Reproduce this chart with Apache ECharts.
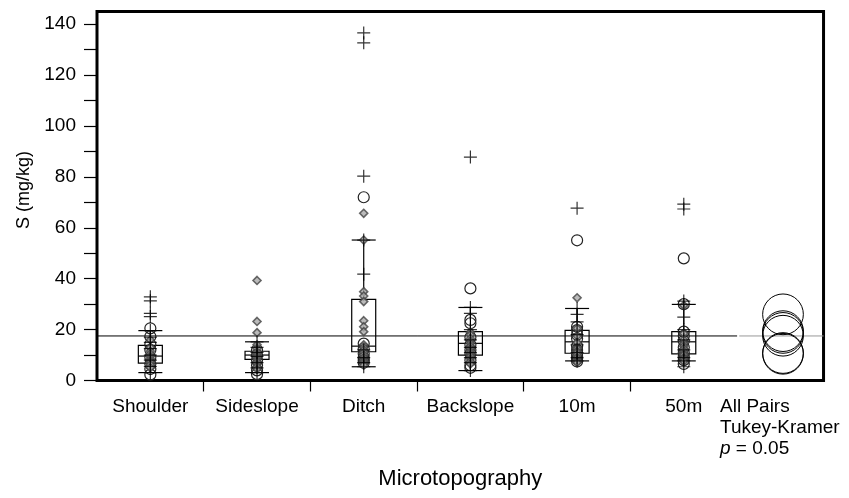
<!DOCTYPE html>
<html><head><meta charset="utf-8">
<script src="https://cdn.jsdelivr.net/npm/echarts@6/dist/echarts.min.js"></script>
<style>html,body{margin:0;padding:0;background:#fff}#c{width:849px;height:498px}</style>
</head><body><div id="c"></div>
<script>
// ---- data ----
const categories = ['Shoulder', 'Sideslope', 'Ditch', 'Backslope', '10m', '50m'];
const yTickValues = [0, 10, 20, 30, 40, 50, 60, 70, 80, 90, 100, 110, 120, 130, 140];
const yLabelValues = [0, 20, 40, 60, 80, 100, 120, 140];
const boxLow  = [3.1, 3.1, 5.4, 3.9, 7.7, 7.7];
const boxQ1   = [6.8, 8.3, 11.3, 10.0, 10.7, 10.5];
const boxMed  = [9.6, 10.0, 13.5, 14.6, 15.2, 15.2];
const boxQ3   = [13.8, 11.5, 31.9, 19.2, 19.7, 19.2];
const boxHigh = [19.6, 15.2, 55.2, 28.7, 28.3, 29.9];
const plusPts = [
  [32.9, 31.3, 26.4, 25.1, 19.6, 17.0, 15.0, 12.5, 10.0, 8.0, 5.5, 3.1],
  [15.2, 13.0, 11.0, 9.5, 7.0, 5.0, 3.1],
  [136.6, 132.7, 80.3, 55.2, 41.8, 12.0, 9.0, 7.0, 5.4],
  [87.8, 28.7, 26.4, 20.0, 16.0, 13.0, 11.0, 9.0, 7.0, 3.9],
  [67.7, 28.3, 26.0, 23.0, 18.0, 14.0, 11.0, 9.0, 7.7],
  [69.3, 67.4, 31.2, 29.9, 24.9, 20.0, 16.0, 12.0, 9.0, 7.7, 5.4]
];
const circlePts = [
  [20.5, 17.3, 14.2, 12.0, 9.0, 6.5, 4.5, 2.3],
  [12.0, 10.0, 8.0, 6.0, 4.0, 2.5],
  [72.0, 14.5, 12.5, 10.5, 9.0, 8.0, 7.0],
  [36.2, 23.8, 22.5, 17.0, 14.0, 12.0, 10.5, 8.0, 6.0, 5.0],
  [55.1, 21.1, 19.8, 18.0, 16.5, 13.5, 12.0, 10.5, 9.5, 8.5, 7.5],
  [48.0, 30.0, 19.2, 17.5, 15.5, 13.0, 11.0, 9.5, 8.0, 6.5]
];
const diamondPts = [
  [16.0, 13.0, 11.5, 10.5, 9.5, 8.6, 7.8, 7.2, 6.2, 5.0],
  [39.3, 23.2, 18.8, 14.0, 12.5, 11.2, 10.4, 9.8, 9.0, 8.2, 7.4, 6.5, 5.5, 4.5],
  [65.7, 55.2, 34.9, 33.2, 31.0, 23.5, 21.1, 19.2, 14.0, 13.0, 12.0, 11.0, 10.0, 9.0, 8.0, 7.5, 6.8, 6.0],
  [19.0, 18.0, 16.5, 15.5, 14.5, 13.5, 12.5, 11.5, 10.8, 10.0, 9.5, 8.5, 7.5, 6.5],
  [32.5, 20.5, 17.5, 15.0, 13.0, 12.5, 11.5, 11.0, 10.0, 9.0, 8.0, 7.5, 7.0],
  [29.5, 18.5, 16.0, 14.5, 13.5, 12.5, 11.5, 10.5, 10.0, 9.0, 8.5, 7.5]
];
const groupMeans = [10.8, 10.5, 26.0, 17.6, 18.7, 19.4];
const circleRadii = [8.0, 8.0, 8.0, 8.0, 8.0, 8.0];
const grandMean = 17.5;

// ---- layout helpers ----
const nG = categories.length;
const xMax = 6.81;
const circleX = nG + 0.43;
const gx = i => i + 0.5;

const boxData = categories.map((c, i) => [gx(i), boxLow[i], boxQ1[i], boxMed[i], boxQ3[i], boxHigh[i]]);
const toPts = arr => arr.flatMap((vals, i) => vals.map(v => [gx(i), v]));
const circData = groupMeans.map((m, i) => [circleX, m, circleRadii[i]]);

const font = "'Liberation Sans', Arial, sans-serif";

function renderBox(params, api) {
  const x = api.value(0);
  const lo = api.coord([x, api.value(1)]);
  const q1 = api.coord([x, api.value(2)]);
  const md = api.coord([x, api.value(3)]);
  const q3 = api.coord([x, api.value(4)]);
  const hi = api.coord([x, api.value(5)]);
  const cx = lo[0], hw = 12;
  const st = { stroke: '#000', lineWidth: 1.2, fill: null };
  const ln = (x1, y1, x2, y2) => ({ type: 'line', shape: { x1, y1, x2, y2 }, style: st });
  return { type: 'group', children: [
    { type: 'rect', shape: { x: cx - hw, y: q3[1], width: 2 * hw, height: q1[1] - q3[1] }, style: { stroke: '#000', lineWidth: 1.2, fill: 'rgba(0,0,0,0)' } },
    ln(cx - hw, md[1], cx + hw, md[1]),
    ln(cx, q3[1], cx, hi[1]),
    ln(cx, q1[1], cx, lo[1]),
    ln(cx - hw, hi[1], cx + hw, hi[1]),
    ln(cx - hw, lo[1], cx + hw, lo[1])
  ]};
}

function renderCircle(params, api) {
  const c = api.coord([api.value(0), api.value(1)]);
  const r = api.size([0, api.value(2)])[1];
  return { type: 'circle', shape: { cx: c[0], cy: c[1], r }, style: { fill: 'rgba(0,0,0,0)', stroke: '#000', lineWidth: 1 } };
}

const chart = echarts.init(document.getElementById('c'), null, { renderer: 'canvas' });
chart.setOption({
  backgroundColor: '#fff',
  animation: false,
  textStyle: { fontFamily: font, color: '#000' },
  grid: { left: 97, right: 20, top: 11.5, bottom: 117.5, show: true, borderColor: '#000', borderWidth: 3, backgroundColor: 'transparent' },
  xAxis: {
    type: 'value', min: 0, max: xMax,
    name: 'Microtopography', nameLocation: 'middle', nameGap: 87,
    nameTextStyle: { fontFamily: font, fontSize: 22, color: '#000' },
    axisLine: { show: false },
    splitLine: { show: false },
    axisTick: { show: true, inside: false, length: 11, customValues: categories.slice(1).map((c, i) => i + 1), lineStyle: { color: '#000', width: 1.2 } },
    axisLabel: {
      show: true, margin: 16, fontFamily: font, fontSize: 19, color: '#000', lineHeight: 21,
      customValues: categories.map((c, i) => gx(i)).concat([circleX]),
      formatter: v => {
        const i = Math.round(v - 0.5);
        if (i < nG) return categories[i];
        return '{a|All Pairs}\n{w|Tukey-Kramer}\n{i|p}{a| = 0.05}';
      },
      rich: {
        a: { fontFamily: font, fontSize: 19, lineHeight: 21, align: 'left', color: '#000' },
        w: { fontFamily: font, fontSize: 19, lineHeight: 21, align: 'left', width: 126, color: '#000' },
        i: { fontFamily: font, fontSize: 19, lineHeight: 21, align: 'left', fontStyle: 'italic', color: '#000' }
      }
    }
  },
  yAxis: {
    type: 'value', min: 0, max: 145,
    name: 'S (mg/kg)', nameLocation: 'middle', nameGap: 62, nameRotate: 90,
    nameTextStyle: { fontFamily: font, fontSize: 18, color: '#000', padding: [0, 0, 0, 12] },
    axisLine: { show: false },
    splitLine: { show: false },
    axisTick: { show: true, inside: false, length: 13, customValues: yTickValues, lineStyle: { color: '#000', width: 1.2 } },
    axisLabel: { show: true, margin: 21, fontFamily: font, fontSize: 19, color: '#000', customValues: yLabelValues }
  },
  series: [
    { type: 'line', data: [[0, grandMean], [nG, grandMean]], symbol: 'none', lineStyle: { color: '#000', width: 1 }, z: 1, silent: true },
    { type: 'line', data: [[nG + 0.02, grandMean], [xMax, grandMean]], symbol: 'none', lineStyle: { color: '#999', width: 1 }, z: 1, silent: true },
    { type: 'custom', renderItem: renderBox, data: boxData, z: 2, silent: true },
    { type: 'scatter', data: toPts(circlePts), symbol: 'circle', symbolSize: 11,
      itemStyle: { color: 'rgba(255,255,255,0)', borderColor: '#222', borderWidth: 1.2, opacity: 1 }, z: 3, silent: true },
    { type: 'scatter', data: toPts(diamondPts), symbol: 'diamond', symbolSize: 8,
      itemStyle: { color: '#aaa', borderColor: '#444', borderWidth: 1.6 }, z: 4, silent: true },
    { type: 'scatter', data: toPts(plusPts), symbol: 'path://M5,0L5,10M0,5L10,5', symbolSize: 13,
      itemStyle: { color: 'rgba(0,0,0,0)', borderColor: '#000', borderWidth: 1.2 }, z: 5, silent: true },
    { type: 'custom', renderItem: renderCircle, data: circData, z: 6, silent: true }
  ]
});
</script>
</body></html>
